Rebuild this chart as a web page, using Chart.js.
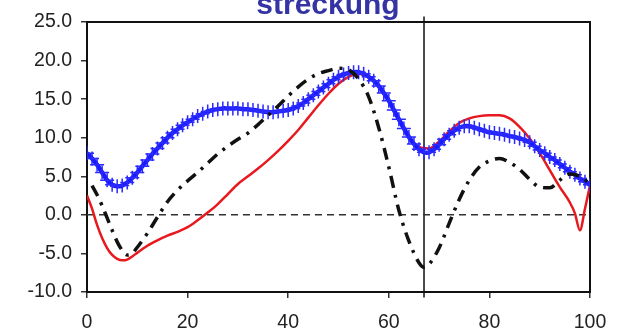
<!DOCTYPE html>
<html>
<head>
<meta charset="utf-8">
<script src="https://cdn.jsdelivr.net/npm/chart.js@4"></script>
<style>
  html, body { margin: 0; padding: 0; background: #fff; }
  canvas { display: block; }
</style>
</head>
<body>
<canvas id="chart" width="617" height="331"></canvas>
<script>
// Chart title (cut off at the top in the original)
const titleText = 'streckung';

// Axis ticks
const xTicks = [0, 20, 40, 60, 80, 100];
const yTicks = [-10, -5, 0, 5, 10, 15, 20, 25];

// Vertical marker position
const markerX = 67;

// Blue series with + markers, one value per x = 0..100
const blueValues = [
  8.0, 7.3, 6.5, 5.5, 4.5, 3.9, 3.7, 3.8, 4.2, 4.8,
  5.5, 6.3, 7.1, 7.9, 8.6, 9.3, 10.0, 10.6, 11.1, 11.6,
  12.0, 12.4, 12.8, 13.1, 13.4, 13.6, 13.7, 13.8, 13.8, 13.8,
  13.8, 13.7, 13.7, 13.6, 13.5, 13.4, 13.3, 13.3, 13.4, 13.5,
  13.6, 13.8, 14.1, 14.5, 15.0, 15.5, 16.0, 16.5, 17.0, 17.5,
  17.9, 18.2, 18.4, 18.5, 18.5, 18.3, 17.9, 17.4, 16.7, 15.8,
  14.8, 13.6, 12.4, 11.2, 10.1, 9.2, 8.5, 8.1, 8.1, 8.5,
  9.1, 9.8, 10.4, 10.9, 11.3, 11.5, 11.5, 11.3, 11.1, 10.9,
  10.7, 10.6, 10.5, 10.4, 10.2, 10.1, 9.9, 9.7, 9.4, 8.9,
  8.4, 8.0, 7.5, 7.1, 6.6, 6.1, 5.6, 5.2, 4.7, 4.3,
  3.9
];

// Red solid series
const redX = [0, 1, 2, 3, 4, 5, 6, 7, 8, 9, 10, 12, 14, 16, 18, 20, 22, 24, 26, 28,
  30, 32, 34, 36, 38, 40, 42, 44, 46, 48, 50, 52, 54, 56, 58, 60, 62, 64, 66, 68,
  70, 72, 74, 76, 78, 80, 82, 84, 86, 88, 90, 92, 94, 96, 97, 98, 99, 100];
const redY = [2.5, 0.8, -1.3, -3.0, -4.3, -5.2, -5.7, -5.9, -5.8, -5.4, -4.9, -4.0, -3.3, -2.7, -2.2, -1.6, -0.7, 0.3, 1.4, 2.7,
  4.0, 5.0, 6.0, 7.1, 8.3, 9.6, 11.0, 12.6, 14.2, 15.7, 17.0, 17.9, 18.3, 17.8, 16.8, 14.8, 12.3, 10.0, 8.8, 8.6,
  9.5, 10.8, 11.9, 12.5, 12.8, 12.9, 12.9, 12.5, 11.4, 9.9, 8.0, 5.8, 3.6, 1.6, 0.2, -2.0, 0.8, 3.8];

// Black dash-dot series
const blackX = [1, 2, 3, 4, 5, 6, 7, 8, 9, 10, 12, 14, 16, 18, 20, 22, 24, 26, 28,
  30, 32, 34, 36, 38, 40, 42, 44, 46, 48, 50, 52, 54, 56, 58, 60, 62, 64, 66, 67,
  68, 70, 72, 74, 76, 78, 80, 82, 84, 86, 88, 90, 92, 94, 96, 98, 100];
const blackY = [3.8, 2.6, 1.2, -0.4, -2.0, -3.5, -4.6, -5.2, -5.0, -4.2, -2.4, -0.3, 1.7, 3.2, 4.4, 5.5, 6.7, 7.9, 8.9,
  9.8, 10.6, 11.7, 12.9, 14.1, 15.4, 16.6, 17.6, 18.3, 18.7, 19.0, 18.8, 17.6, 15.3, 11.3, 6.2, 0.6, -3.4, -6.2, -6.8,
  -6.4, -4.3, -1.1, 2.0, 4.5, 6.2, 7.0, 7.3, 6.8, 5.9, 4.6, 3.6, 3.5, 4.5, 5.3, 5.0, 4.0];

function pairs(xs, ys) {
  return xs.map((x, i) => ({ x: x, y: ys[i] }));
}

// Box around the plot area
const frame = {
  id: 'frame',
  beforeDatasetsDraw(chart) {
    const a = chart.chartArea;
    const ctx = chart.ctx;
    ctx.save();
    ctx.strokeStyle = '#111';
    ctx.lineWidth = 2;
    ctx.strokeRect(a.left, a.top, a.right - a.left, a.bottom - a.top);
    ctx.restore();
  }
};

const titlePlugin = {
  id: 'topTitle',
  afterDraw(chart) {
    const ctx = chart.ctx;
    ctx.save();
    ctx.font = 'bold 30px "Liberation Sans", Arial, sans-serif';
    ctx.fillStyle = '#3434a4';
    ctx.textAlign = 'center';
    ctx.textBaseline = 'alphabetic';
    ctx.fillText(titleText, 328, 14);
    ctx.restore();
  }
};

const tickFont = { family: '"Liberation Sans", Arial, sans-serif', size: 19.5 };

new Chart(document.getElementById('chart'), {
  type: 'line',
  data: {
    datasets: [
      {
        data: pairs(blackX, blackY),
        borderColor: '#111',
        borderWidth: 3.5,
        borderDash: [12, 7, 3, 7],
        pointRadius: 0,
        cubicInterpolationMode: 'monotone'
      },
      {
        data: blueValues.map((v, i) => ({ x: i, y: v })),
        borderColor: '#1a1aff',
        borderWidth: 4.5,
        pointStyle: 'cross',
        pointRadius: 7,
        pointBorderWidth: 1.5,
        pointBorderColor: '#2a2aff',
        tension: 0.3
      },
      {
        data: pairs(redX, redY),
        borderColor: '#e8191e',
        borderWidth: 2.5,
        pointRadius: 0,
        cubicInterpolationMode: 'monotone'
      },
      {
        // zero line
        data: [{ x: 0, y: 0 }, { x: 100, y: 0 }],
        borderColor: '#333',
        borderWidth: 1.5,
        borderDash: [7, 5],
        pointRadius: 0
      },
      {
        // vertical marker, pokes out a bit above and below the box
        data: [{ x: markerX, y: 25.7 }, { x: markerX, y: -10.7 }],
        borderColor: '#111',
        borderWidth: 1.5,
        pointRadius: 0,
        clip: false
      }
    ]
  },
  options: {
    responsive: false,
    animation: false,
    devicePixelRatio: 1,
    layout: { padding: { top: 22, right: 27, left: 0, bottom: 0 } },
    plugins: {
      legend: { display: false },
      tooltip: { enabled: false }
    },
    scales: {
      x: {
        type: 'linear',
        min: 0,
        max: 100,
        afterBuildTicks(scale) { scale.ticks = xTicks.map(v => ({ value: v })); },
        afterFit(scale) {
          scale.height = 39;
          scale.paddingLeft = 0;
          scale.paddingRight = 0;
        },
        ticks: { font: tickFont, color: '#222', padding: 13, maxRotation: 0 },
        grid: { drawOnChartArea: false, drawTicks: true, tickLength: 6, color: '#333', lineWidth: 1.5 },
        border: { display: true, color: '#111', width: 2 }
      },
      y: {
        min: -10,
        max: 25,
        afterBuildTicks(scale) { scale.ticks = yTicks.map(v => ({ value: v })); },
        afterFit(scale) {
          scale.width = 87;
          scale.paddingTop = 0;
          scale.paddingBottom = 0;
        },
        ticks: { font: tickFont, color: '#222', padding: 9, callback: v => v.toFixed(1) },
        grid: { drawOnChartArea: false, drawTicks: true, tickLength: 6, color: '#333', lineWidth: 1.5 },
        border: { display: true, color: '#111', width: 2 }
      }
    }
  },
  plugins: [frame, titlePlugin]
});
</script>
</body>
</html>
